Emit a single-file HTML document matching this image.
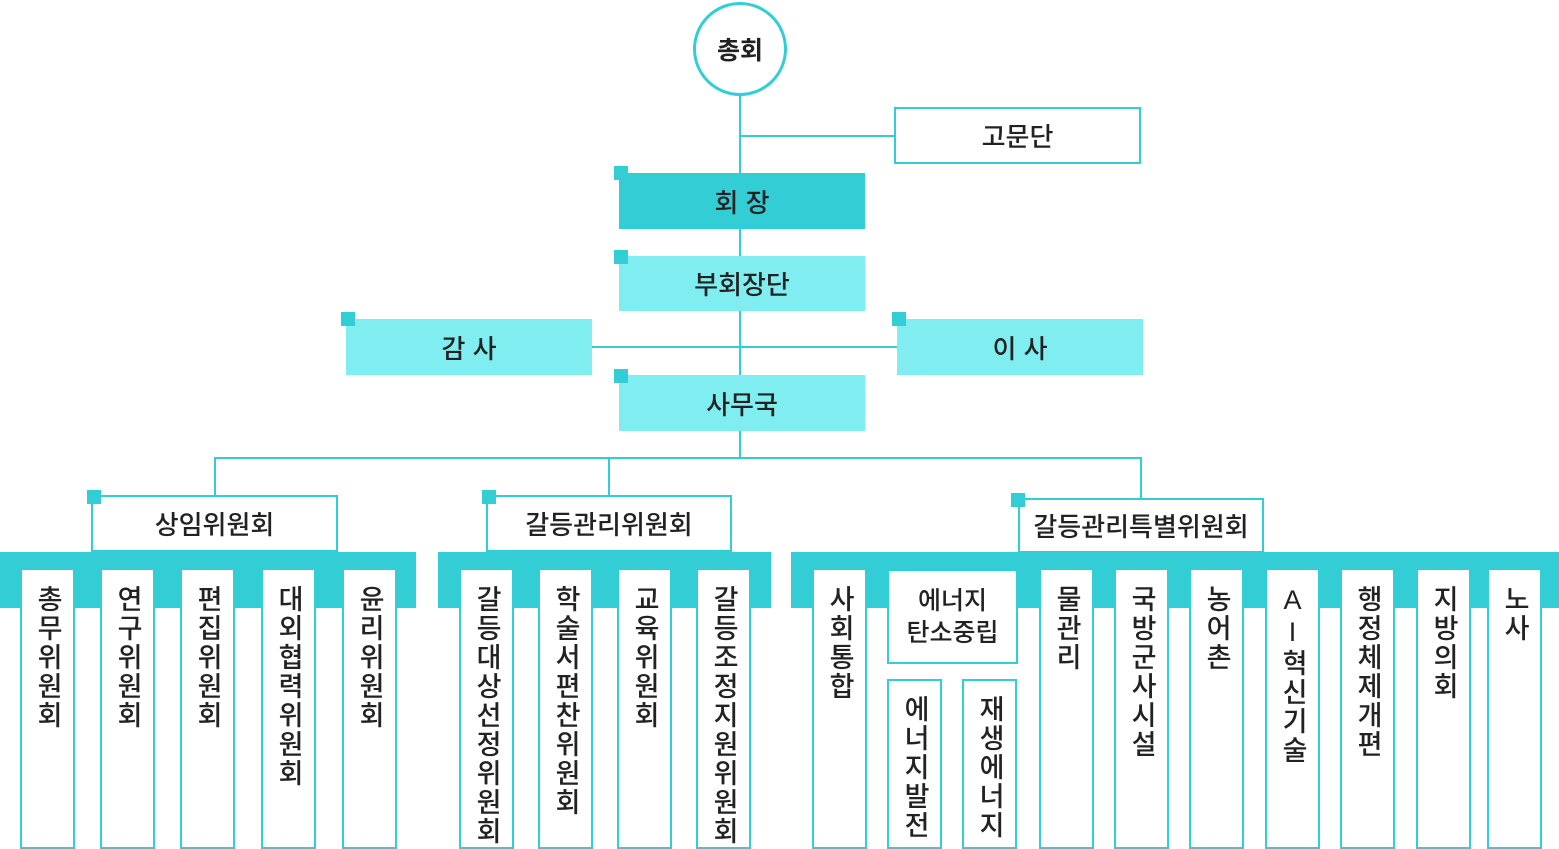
<!DOCTYPE html>
<html><head><meta charset="utf-8"><style>
html,body{margin:0;width:1559px;height:849px;overflow:hidden}
body{background:#fff;position:relative;font-family:"Liberation Sans","Noto Sans CJK KR",sans-serif;color:#222}
.a{position:absolute;box-sizing:border-box}
.b{display:flex;align-items:center;justify-content:center;font-size:26px;font-weight:500}
.w{background:#fff;border:2px solid #33CDD5}
.d{background:#33CDD5}
.l{background:#80EEF0}
.sq{width:14px;height:14px;background:#33CDD5}
.ln{background:#33CDD5}
.c{background:#fff;border:2px solid #33CDD5;top:568px;height:281px;width:55px;display:flex;justify-content:center;padding-top:15px}
.v{writing-mode:vertical-rl;text-orientation:upright;font-size:27px;line-height:30px;letter-spacing:2px;font-weight:500}
</style></head><body>
<div class="a ln" style="left:739px;top:92px;width:1.5px;height:366px"></div>
<div class="a ln" style="left:740px;top:135px;width:154px;height:1.5px"></div>
<div class="a ln" style="left:592px;top:346px;width:305px;height:1.5px"></div>
<div class="a ln" style="left:215px;top:457px;width:927px;height:1.5px"></div>
<div class="a ln" style="left:214px;top:457px;width:1.5px;height:40px"></div>
<div class="a ln" style="left:608px;top:457px;width:1.5px;height:40px"></div>
<div class="a ln" style="left:1140px;top:457px;width:1.5px;height:42px"></div>
<div class="a b" style="left:693px;top:2px;width:94px;height:94px;border:3px solid #33CDD5;border-radius:50%;background:#fff;font-weight:bold;font-size:25px">총회</div>
<div class="a b w" style="left:894px;top:107px;width:247px;height:57px">고문단</div>
<div class="a b d" style="left:619px;top:173px;width:246px;height:56px">회 장</div>
<div class="a sq" style="left:614px;top:166px"></div>
<div class="a b l" style="left:619px;top:256px;width:246px;height:55px">부회장단</div>
<div class="a sq" style="left:614px;top:250px"></div>
<div class="a b l" style="left:346px;top:319px;width:246px;height:56px">감 사</div>
<div class="a sq" style="left:341px;top:312px"></div>
<div class="a b l" style="left:897px;top:319px;width:246px;height:56px">이 사</div>
<div class="a sq" style="left:892px;top:312px"></div>
<div class="a b l" style="left:619px;top:375px;width:246px;height:56px">사무국</div>
<div class="a sq" style="left:614px;top:369px"></div>

<div class="a d" style="left:0;top:552px;width:416px;height:56px"></div>
<div class="a d" style="left:438px;top:552px;width:333px;height:56px"></div>
<div class="a d" style="left:791px;top:552px;width:768px;height:56px"></div>

<div class="a b w" style="left:91px;top:495px;width:247px;height:57px">상임위원회</div>
<div class="a sq" style="left:87px;top:490px"></div>
<div class="a b w" style="left:486px;top:495px;width:246px;height:57px">갈등관리위원회</div>
<div class="a sq" style="left:482px;top:490px"></div>
<div class="a b w" style="left:1018px;top:498px;width:246px;height:55px">갈등관리특별위원회</div>
<div class="a sq" style="left:1011px;top:493px"></div>

<div class="a c" style="left:20px"><span class="v">총무위원회</span></div>
<div class="a c" style="left:100px"><span class="v">연구위원회</span></div>
<div class="a c" style="left:180px"><span class="v">편집위원회</span></div>
<div class="a c" style="left:261px"><span class="v">대외협력위원회</span></div>
<div class="a c" style="left:342px"><span class="v">윤리위원회</span></div>

<div class="a c" style="left:459px"><span class="v">갈등대상선정위원회</span></div>
<div class="a c" style="left:538px"><span class="v">학술서편찬위원회</span></div>
<div class="a c" style="left:617px"><span class="v">교육위원회</span></div>
<div class="a c" style="left:696px"><span class="v">갈등조정지원위원회</span></div>

<div class="a c" style="left:812px"><span class="v">사회통합</span></div>
<div class="a b w" style="left:887px;top:569px;width:131px;height:95px;flex-direction:column;line-height:32px;font-size:25px"><div>에너지</div><div>탄소중립</div></div>
<div class="a c" style="left:887px;top:679px;height:170px;padding-top:14px"><span class="v">에너지발전</span></div>
<div class="a c" style="left:962px;top:679px;height:170px;padding-top:14px"><span class="v">재생에너지</span></div>
<div class="a c" style="left:1039px"><span class="v">물관리</span></div>
<div class="a c" style="left:1114px"><span class="v">국방군사시설</span></div>
<div class="a c" style="left:1189px"><span class="v">농어촌</span></div>
<div class="a c" style="left:1265px"><span class="v">AI혁신기술</span></div>
<div class="a c" style="left:1340px"><span class="v">행정체제개편</span></div>
<div class="a c" style="left:1416px"><span class="v">지방의회</span></div>
<div class="a c" style="left:1487px"><span class="v">노사</span></div>
</body></html>
